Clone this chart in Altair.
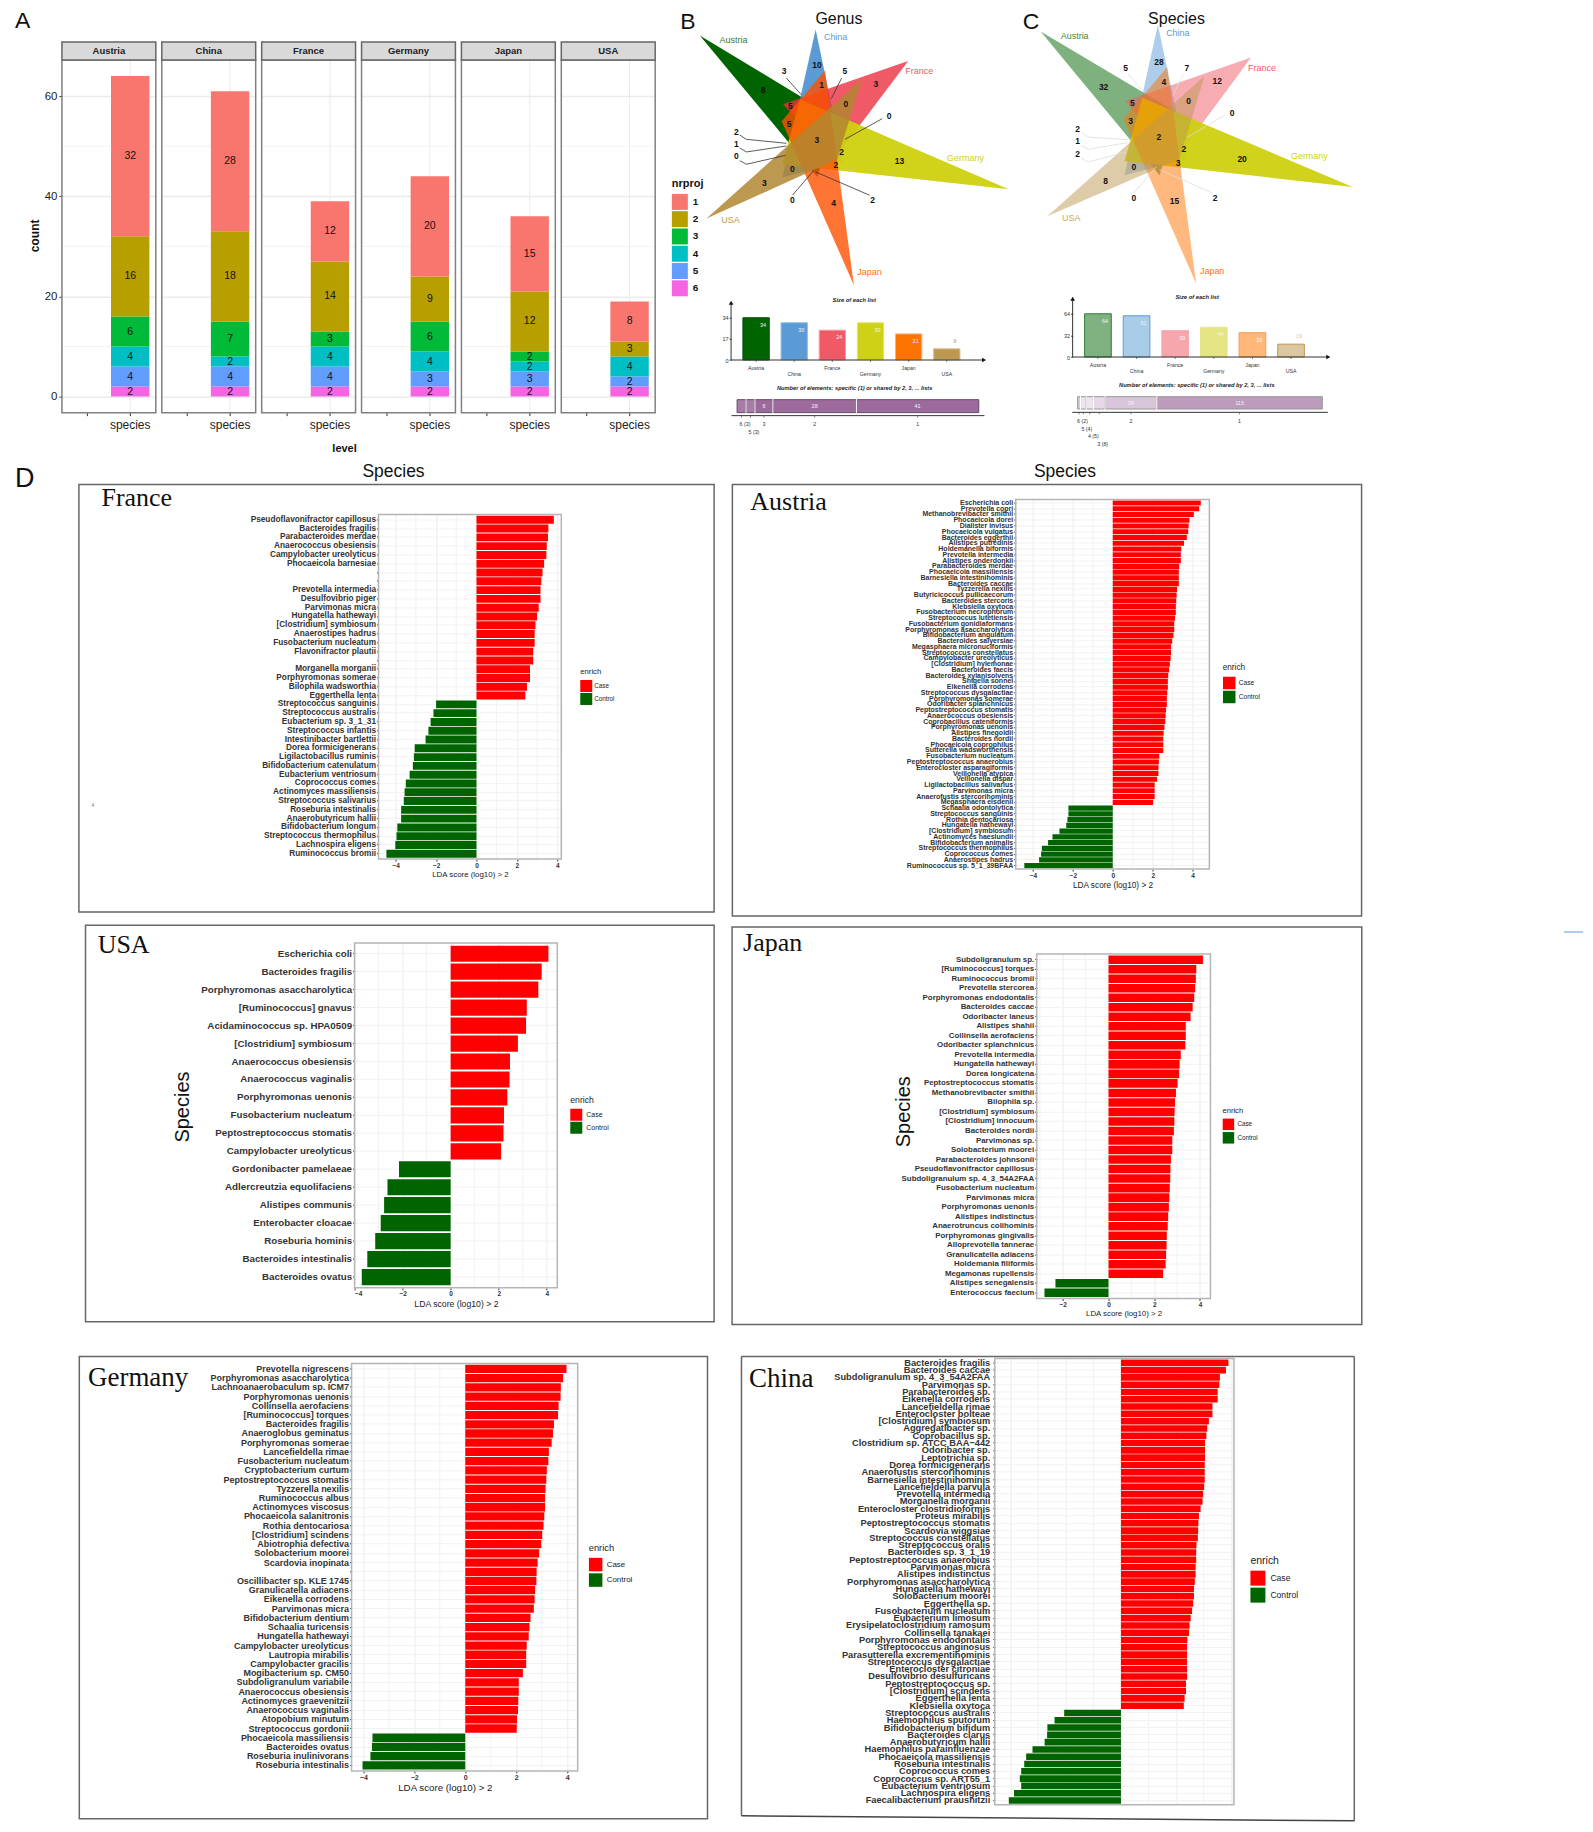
import altair as alt
import pandas as pd

SANS = "Liberation Sans"
SERIF = "Liberation Serif"
one = pd.DataFrame({"a": [0]})

# ---------- panel A data ----------
a_countries = ["Austria", "China", "France", "Germany", "Japan", "USA"]
a_levels = ["1", "2", "3", "4", "5", "6"]
a_counts = [
    [32, 16, 6, 4, 4, 2],
    [28, 18, 7, 2, 4, 2],
    [12, 14, 3, 4, 4, 2],
    [20, 9, 6, 4, 3, 2],
    [15, 12, 2, 2, 3, 2],
    [8, 3, 0, 4, 2, 2],
]
a_colors = ["#F8766D", "#B79F00", "#00BA38", "#00BFC4", "#619CFF", "#F564E3"]

# ---------- venn data ----------
venn_names = ["Austria", "China", "France", "Germany", "Japan", "USA"]
b_tri = [
    [(92, 100), (505, 350), (445, 525)],
    [(440, 82), (340, 527), (523, 478)],
    [(718, 177), (342, 307), (497, 470)],
    [(1020, 562), (393, 292), (340, 487)],
    [(555, 850), (468, 205), (338, 358)],
    [(112, 650), (578, 232), (505, 472)],
]
b_fill = ["#006400", "#3282ca", "#eb3140", "#cfd10f", "#ff5000", "#b28631"]
b_alpha = [1, 0.8, 0.8, 0.95, 0.8, 0.85]
b_name_pos = [(193, 114), (500, 105), (751, 207), (890, 468), (602, 812), (184, 653)]
b_name_col = ["#2e7d32", "#5b9bd5", "#ef5a66", "#cfd117", "#ff7300", "#bd9850"]
b_nums = [(282, 264, "8"), (444, 190, "10"), (458, 250, "1"), (621, 245, "3"), (531, 307, "0"),
          (364, 312, "5"), (360, 367, "5"), (444, 413, "3"), (518, 451, "2"), (501, 489, "2"),
          (692, 478, "13"), (370, 501, "0"), (286, 543, "3"), (494, 603, "4"), (345, 208, "3"),
          (528, 208, "5"), (661, 343, "0"), (202, 389, "2"), (202, 426, "1"), (202, 463, "0"),
          (370, 595, "0"), (611, 595, "2")]
b_lines = [[(352, 228), (397, 278)], [(518, 228), (487, 290)], [(640, 350), (528, 412)],
           [(212, 399), (232, 412), (352, 424)], [(212, 438), (232, 450), (352, 432)],
           [(212, 476), (232, 487), (350, 460)], [(370, 580), (435, 505)], [(602, 580), (440, 510)]]
c_tri = [
    [(63, 88), (480, 336), (420, 520)],
    [(415, 68), (315, 520), (500, 470)],
    [(695, 166), (316, 298), (470, 470)],
    [(1000, 555), (368, 287), (315, 478)],
    [(530, 845), (443, 195), (312, 350)],
    [(83, 643), (555, 222), (480, 470)],
]
c_fill = ["#006400", "#5b9bd5", "#ef5a66", "#cdd00f", "#ff7300", "#bd9850"]
c_alpha = [0.5, 0.5, 0.5, 0.95, 0.5, 0.5]
c_name_pos = [(165, 103), (475, 93), (728, 197), (870, 461), (578, 808), (155, 648)]
c_name_col = ["#3a8a3a", "#5b9bd5", "#ef5a66", "#cfd117", "#ff7300", "#c9a868"]
c_nums = [(252, 255, "32"), (418, 179, "28"), (433, 240, "4"), (593, 236, "12"), (507, 298, "0"),
          (338, 303, "5"), (333, 358, "3"), (418, 405, "2"), (493, 442, "2"), (476, 482, "3"),
          (668, 471, "20"), (343, 495, "0"), (258, 537, "8"), (465, 597, "15"), (318, 198, "5"),
          (502, 198, "7"), (638, 334, "0"), (174, 381, "2"), (174, 418, "1"), (174, 456, "2"),
          (343, 589, "0"), (587, 589, "2")]
c_lines = [[(326, 216), (372, 270)], [(492, 216), (460, 280)], [(615, 340), (505, 405)],
           [(185, 390), (205, 405), (325, 413)], [(185, 430), (205, 442), (325, 422)],
           [(185, 468), (205, 480), (322, 450)], [(343, 573), (410, 495)], [(578, 573), (420, 503)]]

b_sizes = [34, 30, 24, 30, 21, 9]
b_size_fill = ["#006400", "#5b9bd5", "#ef5a66", "#cfd117", "#ff7300", "#bd9850"]
b_size_stroke = ["#004d00", "#8fbde4", "#f8a0a6", "#e4e56e", "#ffb07a", "#d6bf90"]
c_sizes = [64, 61, 39, 44, 36, 19]
c_size_fill = ["#7fb280", "#a9cce8", "#f6a7ad", "#e5e585", "#ffb87a", "#dcc7a2"]
c_size_stroke = ["#2e7d32", "#5b9bd5", "#f6a7ad", "#e5e585", "#f39a55", "#bd9850"]

b_seg_labels = ["6 (3)", "5 (3)", "3", "2", "1"]
b_seg_values = [3, 3, 6, 28, 41]
b_seg_rows = [1, 2, 1, 1, 1]
b_seg_inner = ["", "", "6", "28", "41"]
b_seg_fill = ["#a77da7", "#a77da7", "#9c6b9c", "#9c6b9c", "#9c6b9c"]
c_seg_labels = ["6 (2)", "5 (4)", "4 (5)", "3 (8)", "2", "1"]
c_seg_values = [2, 4, 5, 8, 36, 115]
c_seg_rows = [1, 2, 3, 4, 1, 1]
c_seg_inner = ["", "", "", "", "36", "115"]
c_seg_fill = ["#cfcfcf", "#eee4ee", "#eee4ee", "#e6d8e6", "#d9c5d9", "#bc9bbc"]

# ---------- panel D data ----------
fr_names = ["Pseudoflavonifractor capillosus", "Bacteroides fragilis", "Parabacteroides merdae",
            "Anaerococcus obesiensis", "Campylobacter ureolyticus", "Phocaeicola barnesiae", " ", "  ",
            "Prevotella intermedia", "Desulfovibrio piger", "Parvimonas micra", "Hungatella hathewayi",
            "[Clostridium] symbiosum", "Anaerostipes hadrus", "Fusobacterium nucleatum",
            "Flavonifractor plautii", "   ", "Morganella morganii", "Porphyromonas somerae",
            "Bilophila wadsworthia", "Eggerthella lenta", "Streptococcus sanguinis",
            "Streptococcus australis", "Eubacterium sp. 3_1_31", "Streptococcus infantis",
            "Intestinibacter bartlettii", "Dorea formicigenerans", "Ligilactobacillus ruminis",
            "Bifidobacterium catenulatum", "Eubacterium ventriosum", "Coprococcus comes",
            "Actinomyces massiliensis", "Streptococcus salivarius", "Roseburia intestinalis",
            "Anaerobutyricum hallii", "Bifidobacterium longum", "Streptococcus thermophilus",
            "Lachnospira eligens", "Ruminococcus bromii"]
fr_vals = [3.83, 3.56, 3.54, 3.48, 3.46, 3.35, 3.27, 3.21, 3.17, 3.17, 3.08, 3.0, 2.92, 2.88, 2.88,
           2.81, 2.81, 2.65, 2.65, 2.5, 2.42, -2.0, -2.13, -2.27, -2.38, -2.52, -3.06, -3.10, -3.15,
           -3.31, -3.5, -3.56, -3.6, -3.73, -3.73, -3.92, -3.96, -4.02, -4.46]
fr_case = 21

at_names = ["Escherichia coli", "Prevotella copri", "Methanobrevibacter smithii", "Phocaeicola dorei",
            "Dialister invisus", "Phocaeicola vulgatus", "Bacteroides eggerthii", "Alistipes putredinis",
            "Holdemanella biformis", "Prevotella intermedia", "Alistipes onderdonkii",
            "Parabacteroides merdae", "Phocaeicola massiliensis", "Barnesiella intestinihominis",
            "Bacteroides caccae", "Tyzzerella nexilis", "Butyricicoccus pullicaecorum",
            "Bacteroides stercoris", "Klebsiella oxytoca", "Fusobacterium necrophorum",
            "Streptococcus lutetiensis", "Fusobacterium gonidiaformans", "Porphyromonas asaccharolytica",
            "Bifidobacterium angulatum", "Bacteroides salyersiae", "Megasphaera micronuciformis",
            "Streptococcus constellatus", "Campylobacter ureolyticus", "[Clostridium] hylemonae",
            "Bacteroides faecis", "Bacteroides xylanisolvens", "Shigella sonnei", "Eikenella corrodens",
            "Streptococcus dysgalactiae", "Porphyromonas somerae", "Odoribacter splanchnicus",
            "Peptostreptococcus stomatis", "Anaerococcus obesiensis", "Coprobacillus cateniformis",
            "Porphyromonas uenonis", "Alistipes finegoldii", "Bacteroides nordii", "Phocaeicola coprophilus",
            "Sutterella wadsworthensis", "Fusobacterium nucleatum", "Peptostreptococcus anaerobius",
            "Enterocloster asparagiformis", "Veillonella atypica", "Veillonella dispar",
            "Ligilactobacillus salivarius", "Parvimonas micra", "Anaerofustis stercorihominis",
            "Megasphaera elsdenii", "Schaalia odontolytica", "Streptococcus sanguinis",
            "Rothia dentocariosa", "Hungatella hathewayi", "[Clostridium] symbiosum",
            "Actinomyces naeslundii", "Bifidobacterium animalis", "Streptococcus thermophilus",
            "Coprococcus comes", "Anaerostipes hadrus", "Ruminococcus sp. 5_1_39BFAA"]
at_vals = [4.41, 4.33, 4.06, 3.84, 3.80, 3.78, 3.71, 3.57, 3.43, 3.41, 3.41, 3.33, 3.31, 3.31, 3.31, 3.22,
           3.20, 3.18, 3.16, 3.16, 3.12, 3.08, 3.08, 3.04, 2.98, 2.92, 2.92, 2.90, 2.86, 2.82, 2.78, 2.76,
           2.76, 2.73, 2.71, 2.71, 2.67, 2.65, 2.63, 2.59, 2.55, 2.53, 2.53, 2.53, 2.33, 2.31, 2.29, 2.29,
           2.22, 2.10, 2.10, 2.10, 2.02, -2.22, -2.22, -2.27, -2.33, -2.67, -3.02, -3.24, -3.55, -3.59,
           -3.69, -4.43]
at_case = 53

us_names = ["Escherichia coli", "Bacteroides fragilis", "Porphyromonas asaccharolytica",
            "[Ruminococcus] gnavus", "Acidaminococcus sp. HPA0509", "[Clostridium] symbiosum",
            "Anaerococcus obesiensis", "Anaerococcus vaginalis", "Porphyromonas uenonis",
            "Fusobacterium nucleatum", "Peptostreptococcus stomatis", "Campylobacter ureolyticus",
            "Gordonibacter pamelaeae", "Adlercreutzia equolifaciens", "Alistipes communis",
            "Enterobacter cloacae", "Roseburia hominis", "Bacteroides intestinalis", "Bacteroides ovatus"]
us_vals = [4.07, 3.79, 3.65, 3.17, 3.14, 2.80, 2.47, 2.45, 2.36, 2.22, 2.20, 2.10, -2.15, -2.63, -2.77,
           -2.91, -3.14, -3.47, -3.70]
us_case = 12

jp_names = ["Subdoligranulum sp.", "[Ruminococcus] torques", "Ruminococcus bromii", "Prevotella stercorea",
            "Porphyromonas endodontalis", "Bacteroides caccae", "Odoribacter laneus", "Alistipes shahii",
            "Collinsella aerofaciens", "Odoribacter splanchnicus", "Prevotella intermedia",
            "Hungatella hathewayi", "Dorea longicatena", "Peptostreptococcus stomatis",
            "Methanobrevibacter smithii", "Bilophila sp.", "[Clostridium] symbiosum", "[Clostridium] innocuum",
            "Bacteroides nordii", "Parvimonas sp.", "Solobacterium moorei", "Parabacteroides johnsonii",
            "Pseudoflavonifractor capillosus", "Subdoligranulum sp. 4_3_54A2FAA", "Fusobacterium nucleatum",
            "Parvimonas micra", "Porphyromonas uenonis", "Alistipes indistinctus", "Anaerotruncus colihominis",
            "Porphyromonas gingivalis", "Alloprevotella tannerae", "Granulicatella adiacens",
            "Holdemania filiformis", "Megamonas rupellensis", "Alistipes senegalensis", "Enterococcus faecium"]
jp_vals = [4.13, 3.84, 3.82, 3.79, 3.75, 3.68, 3.59, 3.38, 3.38, 3.36, 3.16, 3.11, 3.09, 3.02, 2.95, 2.91,
           2.89, 2.88, 2.86, 2.79, 2.79, 2.73, 2.71, 2.70, 2.68, 2.66, 2.64, 2.61, 2.59, 2.55, 2.54, 2.52,
           2.50, 2.39, -2.32, -2.80]
jp_case = 34

de_names = ["Prevotella nigrescens", "Porphyromonas asaccharolytica", "Lachnoanaerobaculum sp. ICM7",
            "Porphyromonas uenonis", "Collinsella aerofaciens", "[Ruminococcus] torques", "Bacteroides fragilis",
            "Anaeroglobus geminatus", "Porphyromonas somerae", "Lancefieldella rimae", "Fusobacterium nucleatum",
            "Cryptobacterium curtum", "Peptostreptococcus stomatis", "Tyzzerella nexilis", "Ruminococcus albus",
            "Actinomyces viscosus", "Phocaeicola salanitronis", "Rothia dentocariosa", "[Clostridium] scindens",
            "Abiotrophia defectiva", "Solobacterium moorei", "Scardovia inopinata", " ",
            "Oscillibacter sp. KLE 1745", "Granulicatella adiacens", "Eikenella corrodens", "Parvimonas micra",
            "Bifidobacterium dentium", "Schaalia turicensis", "Hungatella hathewayi", "Campylobacter ureolyticus",
            "Lautropia mirabilis", "Campylobacter gracilis", "Mogibacterium sp. CM50", "Subdoligranulum variabile",
            "Anaerococcus obesiensis", "Actinomyces graevenitzii", "Anaerococcus vaginalis", "Atopobium minutum",
            "Streptococcus gordonii", "Phocaeicola massiliensis", "Bacteroides ovatus", "Roseburia inulinivorans",
            "Roseburia intestinalis"]
de_vals = [3.97, 3.84, 3.75, 3.74, 3.66, 3.64, 3.48, 3.44, 3.39, 3.28, 3.26, 3.20, 3.18, 3.15, 3.13, 3.13,
           3.10, 3.07, 3.02, 2.98, 2.90, 2.84, 2.80, 2.79, 2.74, 2.72, 2.69, 2.56, 2.52, 2.49, 2.41, 2.39, 2.39,
           2.26, 2.10, 2.10, 2.08, 2.07, 2.03, 2.02, -3.64, -3.66, -3.72, -4.03]
de_case = 40

cn_names = ["Bacteroides fragilis", "Bacteroides caccae", "Subdoligranulum sp. 4_3_54A2FAA", "Parvimonas sp.",
            "Parabacteroides sp.", "Eikenella corrodens", "Lancefieldella rimae", "Enterocloster bolteae",
            "[Clostridium] symbiosum", "Aggregatibacter sp.", "Coprobacillus sp.", "Clostridium sp. ATCC BAA\u2212442",
            "Odoribacter sp.", "Leptotrichia sp.", "Dorea formicigenerans", "Anaerofustis stercorihominis",
            "Barnesiella intestinihominis", "Lancefieldella parvula", "Prevotella intermedia", "Morganella morganii",
            "Enterocloster clostridioformis", "Proteus mirabilis", "Peptostreptococcus stomatis", "Scardovia wiggsiae",
            "Streptococcus constellatus", "Streptococcus oralis", "Bacteroides sp. 3_1_19",
            "Peptostreptococcus anaerobius", "Parvimonas micra", "Alistipes indistinctus",
            "Porphyromonas asaccharolytica", "Hungatella hathewayi", "Solobacterium moorei", "Eggerthella sp.",
            "Fusobacterium nucleatum", "Eubacterium limosum", "Erysipelatoclostridium ramosum", "Collinsella tanakaei",
            "Porphyromonas endodontalis", "Streptococcus anginosus", "Parasutterella excrementihominis",
            "Streptococcus dysgalactiae", "Enterocloster citroniae", "Desulfovibrio desulfuricans",
            "Peptostreptococcus sp.", "[Clostridium] scindens", "Eggerthella lenta", "Klebsiella oxytoca",
            "Streptococcus australis", "Haemophilus sputorum", "Bifidobacterium bifidum", "Bacteroides clarus",
            "Anaerobutyricum hallii", "Haemophilus parainfluenzae", "Phocaeicola massiliensis", "Roseburia intestinalis",
            "Coprococcus comes", "Coprococcus sp. ART55_1", "Eubacterium ventriosum", "Lachnospira eligens",
            "Faecalibacterium prausnitzii"]
cn_vals = [3.90, 3.81, 3.59, 3.57, 3.51, 3.51, 3.32, 3.32, 3.19, 3.13, 3.10, 3.05, 3.05, 3.05, 3.04, 3.04, 3.04,
           3.02, 2.98, 2.96, 2.89, 2.83, 2.81, 2.80, 2.79, 2.74, 2.73, 2.73, 2.71, 2.71, 2.68, 2.65, 2.65, 2.62,
           2.58, 2.53, 2.49, 2.47, 2.41, 2.40, 2.40, 2.40, 2.40, 2.40, 2.36, 2.36, 2.31, 2.28, -2.06, -2.41, -2.67,
           -2.68, -2.77, -3.21, -3.44, -3.51, -3.62, -3.67, -3.62, -3.88, -4.07]
cn_case = 48


# ---------- helpers ----------
def rect(o, l, t, r, b, **kw):
    return alt.Chart(one).mark_rect(**kw).encode(
        x=alt.value(l - o[0]), x2=alt.value(r - o[0]), y=alt.value(t - o[1]), y2=alt.value(b - o[1]))


def seg(o, x1, y1, x2, y2, **kw):
    return alt.Chart(one).mark_rule(**kw).encode(
        x=alt.value(x1 - o[0]), x2=alt.value(x2 - o[0]), y=alt.value(y1 - o[1]), y2=alt.value(y2 - o[1]))


def txt(o, x, y, s, **kw):
    kw.setdefault("align", "left")
    kw.setdefault("baseline", "alphabetic")
    return alt.Chart(one).mark_text(text=s, **kw).encode(x=alt.value(x - o[0]), y=alt.value(y - o[1]))


def panel(layers, cell, plot):
    o = (plot[0], plot[1])
    bound = rect(o, cell[0], cell[1], cell[2], cell[3], fill="transparent", strokeWidth=0)
    return alt.layer(bound, *layers).properties(width=plot[2] - plot[0], height=plot[3] - plot[1])


def dot():
    return rect((0, 0), 0, 0, 1, 1, fill="transparent", strokeWidth=0).properties(width=1, height=1)


def across(*charts):
    return alt.concat(*charts, spacing=0, align="none").resolve_scale(color="independent")


def down(*charts):
    return alt.concat(*charts, columns=1, spacing=0, align="none").resolve_scale(color="independent")


def row(*cells):
    return across(dot(), *cells)


def stack(*cells):
    return down(dot(), *cells)


# ---------- panel A ----------
AY = alt.Scale(domain=[-3.2, 67.2], nice=False, zero=False)
AX = alt.Scale(domain=[" ", "species"], paddingInner=0.1, paddingOuter=0.15)
AC = alt.Scale(domain=a_levels, range=a_colors)
GRID = "#ebebeb"


def a_panel(idx, cell, plot, extra=()):
    o = (plot[0], plot[1])
    rows = []
    base = 0
    for lev, n in reversed(list(zip(a_levels, a_counts[idx]))):
        if n:
            rows.append(dict(nrproj=lev, n=n, y0=base, y1=base + n, mid=base + n / 2, level="species"))
        base += n
    df = pd.DataFrame(rows)
    first = idx == 0
    yaxis = alt.Axis(values=[0, 20, 40, 60], title=None, grid=True, gridColor=GRID, gridWidth=1.5,
                     domain=False, labels=first, ticks=first, tickSize=3, tickColor="#333",
                     labelFont=SANS, labelFontSize=11.5, labelColor="#222", labelPadding=2)
    xaxis = alt.Axis(title=None, grid=False, domain=False, tickSize=3, tickColor="#333", labelFont=SANS,
                     labelFontSize=12, labelColor="#222", labelAngle=0, labelPadding=4)
    minor = alt.Chart(pd.DataFrame({"m": [10, 30, 50]})).mark_rule(color="#f2f2f2", strokeWidth=1).encode(
        y=alt.Y("m:Q", scale=AY, axis=yaxis))
    vgrid = alt.Chart(pd.DataFrame({"level": ["species"]})).mark_rule(color=GRID, strokeWidth=1).encode(
        x=alt.X("level:N", scale=AX, axis=xaxis))
    bars = alt.Chart(df).mark_bar().encode(
        x=alt.X("level:N", scale=AX, axis=xaxis),
        y=alt.Y("y0:Q", scale=AY, axis=yaxis),
        y2="y1:Q",
        color=alt.Color("nrproj:N", scale=AC, legend=None),
    )
    labels = alt.Chart(df).mark_text(font=SANS, fontSize=10.5, color="#111").encode(
        x=alt.X("level:N", scale=AX, axis=xaxis), y=alt.Y("mid:Q", scale=AY, axis=yaxis), text="n:Q")
    layers = [
        minor, vgrid, bars, labels,
        rect(o, plot[0], plot[1], plot[2], plot[3], fillOpacity=0, stroke="#808080", strokeWidth=1.5),
        rect(o, plot[0], plot[1] - 18, plot[2], plot[1], fill="#d9d9d9", stroke="#666666", strokeWidth=1.5),
        txt(o, (plot[0] + plot[2]) / 2, plot[1] - 9, a_countries[idx], align="center", baseline="middle",
            font=SANS, fontSize=9.5, fontWeight="bold", color="#222"),
    ] + list(extra)
    return panel(layers, cell, plot)


a_o1 = (62, 59)
a1 = a_panel(0, (9, 9, 159, 460), (62, 59, 156, 412), extra=[
    txt(a_o1, 15, 27.3, "A", font=SANS, fontSize=23, color="#111"),
    txt(a_o1, 35.5, 235, "count", align="center", baseline="middle", angle=270, font=SANS, fontSize=12,
        fontWeight="bold", color="#111"),
])
a2 = a_panel(1, (159, 9, 259, 460), (162, 59, 256, 412))
a3 = a_panel(2, (259, 9, 359, 460), (262, 59, 356, 412), extra=[
    txt((262, 59), 345, 448, "level", align="center", baseline="middle", font=SANS, fontSize=11,
        fontWeight="bold", color="#111"),
])
a4 = a_panel(3, (359, 9, 459, 460), (362, 59, 456, 412))
a5 = a_panel(4, (459, 9, 559, 460), (462, 59, 556, 412))
a6 = a_panel(5, (559, 9, 670, 460), (562, 59, 656, 412))


# ---------- venn ----------
def venn(tris, fills, alphas, name_pos, name_col, nums, lines, line_col, zero_x, right, title, title_x,
         letter, letter_x, with_legend=False):
    x0, top, bottom = zero_x + 1, 9, 292
    plot = (x0, top, right, bottom)
    o = (plot[0], plot[1])
    SX = alt.Scale(domain=[(x0 - zero_x) * 3, (right - zero_x) * 3], nice=False, zero=False)
    SY = alt.Scale(domain=[top * 3, bottom * 3], nice=False, zero=False, reverse=True)
    layers = []
    for pts, f, a in zip(tris, fills, alphas):
        closed = list(pts) + [pts[0]]
        d = pd.DataFrame({"x": [p[0] for p in closed], "y": [p[1] for p in closed],
                          "i": list(range(len(closed)))})
        layers.append(alt.Chart(d).mark_line(fill=f, fillOpacity=a, strokeWidth=0).encode(
            x=alt.X("x:Q", scale=SX, axis=None), y=alt.Y("y:Q", scale=SY, axis=None), order="i:Q"))
    rows = []
    for k, line in enumerate(lines):
        for j, p in enumerate(line):
            rows.append(dict(x=p[0], y=p[1], k=k, i=j))
    layers.append(alt.Chart(pd.DataFrame(rows)).mark_line(color=line_col, strokeWidth=0.8).encode(
        x=alt.X("x:Q", scale=SX), y=alt.Y("y:Q", scale=SY), detail="k:N", order="i:Q"))
    ndf = pd.DataFrame(nums, columns=["x", "y", "t"])
    layers.append(alt.Chart(ndf).mark_text(font=SANS, fontSize=8.5, fontWeight="bold", color="#111",
                                           baseline="middle").encode(
        x=alt.X("x:Q", scale=SX), y=alt.Y("y:Q", scale=SY), text="t:N"))
    nm = pd.DataFrame({"x": [p[0] for p in name_pos], "y": [p[1] for p in name_pos], "t": venn_names,
                       "col": name_col})
    layers.append(alt.Chart(nm).mark_text(font=SANS, fontSize=9, baseline="middle").encode(
        x=alt.X("x:Q", scale=SX), y=alt.Y("y:Q", scale=SY), text="t:N",
        color=alt.Color("col:N", scale=None)))
    layers.append(txt(o, title_x, 21.8, title, align="center", font=SANS, fontSize=16, color="#111"))
    layers.append(txt(o, letter_x, 27.3, letter, align="left", font=SANS, fontSize=23, color="#111"))
    if with_legend:
        leg = alt.Legend(title="nrproj", orient="none", legendX=1.7, legendY=167, symbolType="square",
                         symbolSize=256, symbolStrokeWidth=0, symbolOpacity=1, rowPadding=1.3,
                         titleFont=SANS, titleFontSize=11, titleFontWeight="bold", titleColor="#111",
                         titlePadding=5, labelFont=SANS, labelFontSize=10, labelFontWeight="bold",
                         labelColor="#111", labelOffset=5)
        layers.append(alt.Chart(pd.DataFrame({"nrproj": a_levels})).mark_square(size=0).encode(
            x=alt.value(0), y=alt.value(0), color=alt.Color("nrproj:N", scale=AC, legend=leg)))
    return panel(layers, plot, plot)


def size_chart(values, fills, strokes, cell, plot, ymax, ticks, axis_end, title_x):
    o = (plot[0], plot[1])
    H = plot[3] - plot[1]
    df = pd.DataFrame({"name": venn_names, "v": values, "fill": fills, "stroke": strokes,
                       "row": [1, 2, 1, 2, 1, 2], "col": b_name_col})
    SX = alt.Scale(domain=venn_names, paddingInner=0.31, paddingOuter=0.31)
    SY = alt.Scale(domain=[0, ymax], nice=False, zero=False)
    yaxis = alt.Axis(values=ticks, title=None, grid=False, domain=False, tickSize=2, tickColor="#333",
                     labelFont=SANS, labelFontSize=5.5, labelColor="#333", labelPadding=1)
    bars = alt.Chart(df).mark_bar(strokeWidth=1).encode(
        x=alt.X("name:N", scale=SX, axis=None), y=alt.Y("v:Q", scale=SY, axis=yaxis),
        color=alt.Color("fill:N", scale=None), stroke=alt.Stroke("stroke:N", scale=None))
    nx = alt.X("name:N", scale=SX)
    inner = alt.Chart(df[df.v > ymax * 0.25]).mark_text(font=SANS, fontSize=5.5, color="#f4f4f4", dx=7, dy=7).encode(
        x=nx, y=alt.Y("v:Q", scale=SY, axis=yaxis), text="v:Q")
    outer = alt.Chart(df[df.v <= ymax * 0.25]).mark_text(font=SANS, fontSize=5.5, dx=8, dy=-8).encode(
        x=nx, y=alt.Y("v:Q", scale=SY, axis=yaxis), text="v:Q", color=alt.Color("fill:N", scale=None))
    lab1 = alt.Chart(df[df.row == 1]).mark_text(font=SANS, fontSize=5.2, color="#333").encode(
        x=nx, y=alt.value(H + 8), text="name:N")
    lab2 = alt.Chart(df[df.row == 2]).mark_text(font=SANS, fontSize=5.2, color="#333").encode(
        x=nx, y=alt.value(H + 14), text="name:N")
    tk = alt.Chart(df).mark_rule(color="#333", strokeWidth=0.6).encode(
        x=nx, y=alt.value(H), y2=alt.value(H + 2))
    layers = [
        bars, inner, outer, lab1, lab2, tk,
        alt.Chart(one).mark_rule(color="#333", strokeWidth=1).encode(
            x=alt.value(0), x2=alt.value(axis_end), y=alt.value(H)),
        alt.Chart(one).mark_rule(color="#333", strokeWidth=1).encode(
            x=alt.value(0), y=alt.value(0), y2=alt.value(H)),
        alt.Chart(one).mark_point(shape="triangle-right", filled=True, size=22, color="#111", opacity=1).encode(
            x=alt.value(axis_end), y=alt.value(H)),
        alt.Chart(one).mark_point(shape="triangle-up", filled=True, size=22, color="#111", opacity=1).encode(
            x=alt.value(0), y=alt.value(0)),
        txt(o, title_x, 299.5, "Size of each list", align="center", font=SANS,
            fontSize=5.8, fontStyle="italic", fontWeight="bold", color="#222"),
    ]
    return panel(layers, cell, plot)


def number_chart(labels, values, rows_, inner, fills, stroke, cell, plot, ax_l, ax_r, ax_y, row_y, title_x, title_y):
    o = (plot[0], plot[1])
    start, end, c = [], [], 0
    for v in values:
        start.append(c)
        c += v
        end.append(c)
    df = pd.DataFrame({"label": labels, "s": start, "e": end, "row": rows_, "inner": inner, "fill": fills})
    df["mid"] = (df.s + df.e) / 2
    SX = alt.Scale(domain=[0, c], nice=False, zero=False)
    H = plot[3] - plot[1]
    axy = ax_y - plot[1]
    bars = alt.Chart(df).mark_rect(stroke=stroke, strokeWidth=1).encode(
        x=alt.X("s:Q", scale=SX, axis=None), x2="e:Q", y=alt.value(0), y2=alt.value(H),
        color=alt.Color("fill:N", scale=None))
    gaps = alt.Chart(df.iloc[:-1]).mark_rule(color="#ffffff", strokeWidth=1).encode(
        x=alt.X("e:Q", scale=SX), y=alt.value(-1), y2=alt.value(H + 1))
    ins = alt.Chart(df[df.inner != ""]).mark_text(font=SANS, fontSize=5.5, color="#f4f4f4").encode(
        x=alt.X("mid:Q", scale=SX), y=alt.value(H / 2), text="inner:N")
    tk = alt.Chart(df).mark_rule(color="#333", strokeWidth=0.6).encode(
        x=alt.X("mid:Q", scale=SX), y=alt.value(axy), y2=alt.value(axy + 2))
    layers = [bars, gaps, ins, tk,
              seg(o, ax_l, ax_y, ax_r, ax_y, color="#333", strokeWidth=1),
              txt(o, title_x, title_y, "Number of elements: specific (1) or shared by 2, 3, ... lists",
                  align="center", font=SANS, fontSize=5.7, fontStyle="italic", fontWeight="bold", color="#222")]
    dfl = df[df.label.str.contains(r"\(")]
    dfc = df[~df.label.str.contains(r"\(")]
    for r, y in enumerate(row_y, start=1):
        sub = dfl[dfl.row == r]
        if len(sub):
            layers.append(alt.Chart(sub).mark_text(font=SANS, fontSize=5.3, align="left", color="#333", dx=-2).encode(
                x=alt.X("mid:Q", scale=SX), y=alt.value(y - plot[1]), text="label:N"))
    layers.append(alt.Chart(dfc).mark_text(font=SANS, fontSize=5.3, color="#333").encode(
        x=alt.X("mid:Q", scale=SX), y=alt.value(row_y[0] - plot[1]), text="label:N"))
    return panel(layers, cell, plot)


b_venn = venn(b_tri, b_fill, b_alpha, b_name_pos, b_name_col, b_nums, b_lines, "#333333", 670, 1020,
              "Genus", 840, "B", 681, with_legend=True)
b_size = size_chart(b_sizes, b_size_fill, b_size_stroke, (671, 294.5, 1020, 378), (731.7, 300, 972.7, 357.3),
                    46.06, [0, 17, 34], 253.3, 855)
b_num = number_chart(b_seg_labels, b_seg_values, b_seg_rows, b_seg_inner, b_seg_fill, "#6b4a6b",
                     (671, 379.5, 1020, 457.6), (737.3, 397.7, 979.3, 410.7), 731.7, 985, 413.7, [422.3, 430],
                     855, 388.5)
c_venn = venn(c_tri, c_fill, c_alpha, c_name_pos, c_name_col, c_nums, c_lines, "#dddddd", 1020, 1585,
              "Species", 1177, "C", 1023)
c_size = size_chart(c_sizes, c_size_fill, c_size_stroke, (1021, 294.5, 1585, 378), (1072.3, 299, 1316.3, 357.3),
                    86.2, [0, 32, 64], 256, 1197)
c_num = number_chart(c_seg_labels, c_seg_values, c_seg_rows, c_seg_inner, c_seg_fill, "#999999",
                     (1021, 379.5, 1585, 457.6), (1077.7, 398.3, 1322.7, 410.7), 1072.3, 1328.3, 414,
                     [422.7, 430.3, 438, 445.3], 1197, 388.5)

row1 = row(stack(a1), stack(a2), stack(a3), stack(a4), stack(a5), stack(a6),
           stack(row(b_venn), row(b_size), row(b_num)), stack(row(c_venn), row(c_size), row(c_num)))


# ---------- LDA panels ----------
def lda(names, vals, ncase, dom, cell, frame, plot, fs, tick_fs, title_fs, title_x, leg, name, extra=(), xlabels=True,
        bx="#b5b5b5", lab_pad=1):
    o = (plot[0], plot[1])
    df = pd.DataFrame({"sp": names, "v": vals, "enrich": ["Case"] * ncase + ["Control"] * (len(names) - ncase)})
    SX = alt.Scale(domain=dom, nice=False, zero=False)
    SY = alt.Scale(domain=names, paddingInner=0.1, paddingOuter=0.15)
    SC = alt.Scale(domain=["Case", "Control"], range=["#ff0000", "#006400"])
    ticks = [t for t in [-4, -2, 0, 2, 4] if dom[0] <= t <= dom[1]]
    axkw = dict(values=ticks, grid=True, gridColor=GRID, domain=False, format="d")
    if xlabels:
        xaxis = alt.Axis(title="LDA score (log10) > 2", titleFont=SANS, titleFontSize=title_fs, titleFontWeight="normal",
                         titleColor="#222", titlePadding=2, tickSize=2, tickColor="#333", labelFont=SANS,
                         labelFontSize=tick_fs, labelFontWeight="bold", labelColor="#333", labelPadding=1,
                         **({"titleX": title_x} if title_x is not None else {}), **axkw)
    else:
        xaxis = alt.Axis(title=None, labels=False, ticks=False, **axkw)
    yaxis = alt.Axis(title=None, grid=True, gridColor="#f2f2f2", domain=False, tickSize=2, tickColor="#333",
                     labelFont=SANS, labelFontSize=fs, labelFontWeight="bold", labelColor="#333",
                     labelPadding=lab_pad, labelLimit=400, labelOverlap=False)
    minor = alt.Chart(pd.DataFrame({"m": [t for t in [-3, -1, 1, 3] if dom[0] <= t <= dom[1]]})).mark_rule(
        color="#f2f2f2", strokeWidth=1).encode(x=alt.X("m:Q", scale=SX, axis=xaxis))
    lg = alt.Legend(title="enrich", orient="none", legendX=leg["x"] - plot[0], legendY=leg["y"] - plot[1],
                    symbolType="square", symbolSize=leg["s"] ** 2, symbolStrokeWidth=0, symbolOpacity=1,
                    rowPadding=leg.get("pad", 1), titleFont=SANS, titleFontSize=leg["tfs"], titleFontWeight="normal",
                    titleColor="#222", titlePadding=leg.get("tp", 4), labelFont=SANS, labelFontSize=leg["lfs"],
                    labelColor="#222", labelOffset=leg.get("off", 3))
    bars = alt.Chart(df).mark_bar().encode(
        x=alt.X("v:Q", scale=SX, axis=xaxis), y=alt.Y("sp:N", scale=SY, axis=yaxis),
        color=alt.Color("enrich:N", scale=SC, legend=lg))
    layers = [minor, bars,
              rect(o, plot[0], plot[1], plot[2], plot[3], fillOpacity=0, stroke=bx, strokeWidth=1.5)]
    if frame is not None:
        layers.append(rect(o, frame[0], frame[1], frame[2], frame[3], fillOpacity=0, stroke="#666666", strokeWidth=1.5))
    layers.append(txt(o, name[0], name[1], name[2], font=SERIF, fontSize=name[3], color="#111"))
    for e in extra:
        layers.append(e(o))
    return panel(layers, cell, plot)


LEFT_X, RIGHT_X = 726, 1585
sp_title = lambda x, y: (lambda o: txt(o, x, y, "Species", align="center", font=SANS, fontSize=17.5, color="#111"))
sp_axis = lambda x, y: (lambda o: txt(o, x, y, "Species", align="center", baseline="middle", angle=270, font=SANS,
                                      fontSize=20, color="#111"))

france = lda(fr_names, fr_vals, fr_case, [-4.85, 4.2], (9, 461, LEFT_X, 920), (79, 484, 715, 912), (379, 514, 562, 859),
             8.3, 6.5, 7.9, None, dict(x=581, y=668, s=12, tfs=7.7, lfs=6.3, pad=1, off=2), (101.6, 505, "France", 26),
             extra=[sp_title(394, 476),
                    lambda o: txt(o, 15, 486, "D", font=SANS, fontSize=27, color="#111"),
                    lambda o: txt(o, 93, 807, "4", align="center", font=SANS, fontSize=5, color="#777")])
austria = lda(at_names, at_vals, at_case, [-4.86, 4.84], (LEFT_X, 461, RIGHT_X, 920), (733, 484, 1363, 916),
              (1016.7, 499, 1210.6, 869), 7.0, 6.5, 8.3, None, dict(x=1224, y=664, s=12.5, tfs=8.2, lfs=6.6, pad=1, off=3),
              (751, 509, "Austria", 26), extra=[sp_title(1066, 476)])
usa = lda(us_names, us_vals, us_case, [-4.0, 4.44], (9, 921, LEFT_X, 1348.5), (85.6, 925, 715, 1322), (355, 942.7, 558, 1288),
          9.8, 6.5, 8.7, None, dict(x=571, y=1096, s=12, tfs=8.7, lfs=7, pad=1, off=4), (97.8, 953, "USA", 26),
          extra=[sp_axis(183, 1107)])
japan = lda(jp_names, jp_vals, jp_case, [-3.14, 4.46], (LEFT_X, 921, RIGHT_X, 1348.5), (733, 927, 1363.5, 1325),
            (1038, 954, 1212, 1299), 7.9, 6.5, 7.85, None, dict(x=1224, y=1107, s=11.5, tfs=7.6, lfs=6.3, pad=1.5, off=3),
            (744, 951, "Japan", 26),
            extra=[sp_axis(905, 1112), lambda o: seg(o, 1566, 932, 1585, 932, color="#5b9bd5", strokeWidth=1)])
germany = lda(de_names, de_vals, de_case, [-4.46, 4.41], (9, 1351, LEFT_X, 1824), (79, 1358, 708, 1821),
              (351.6, 1365, 578, 1773), 9.0, 7, 9.75, 93.4, dict(x=589, y=1546, s=13.5, tfs=9.4, lfs=8, pad=1.5, off=4),
              (87.7, 1388, "Germany", 27))
china = lda(cn_names, cn_vals, cn_case, [-4.58, 4.1], (LEFT_X, 1351, RIGHT_X, 1824), None, (995, 1360, 1234.5, 1807),
            9.3, 6.5, 9, None, dict(x=1251, y=1558, s=15, tfs=10.5, lfs=8.6, pad=2, off=5), (749, 1389, "China", 27),
            xlabels=False, lab_pad=3,
            extra=[lambda o: seg(o, 741.4, 1358, 1355, 1358, color="#666666", strokeWidth=1.5),
                   lambda o: seg(o, 741.4, 1358, 741.4, 1818, color="#666666", strokeWidth=1.5),
                   lambda o: seg(o, 1355, 1358, 1355, 1823, color="#666666", strokeWidth=1.5),
                   lambda o: seg(o, 741.4, 1818, 1355, 1823, color="#444444", strokeWidth=1.5)])

row2 = row(stack(france), stack(austria))
row3 = row(stack(usa), stack(japan))
row4 = row(stack(germany), stack(china))

chart = down(row1, row2, row3, row4).properties(padding=0).configure_view(stroke=None)
chart.save("out.html", embed_options={"renderer": "svg", "actions": False})
